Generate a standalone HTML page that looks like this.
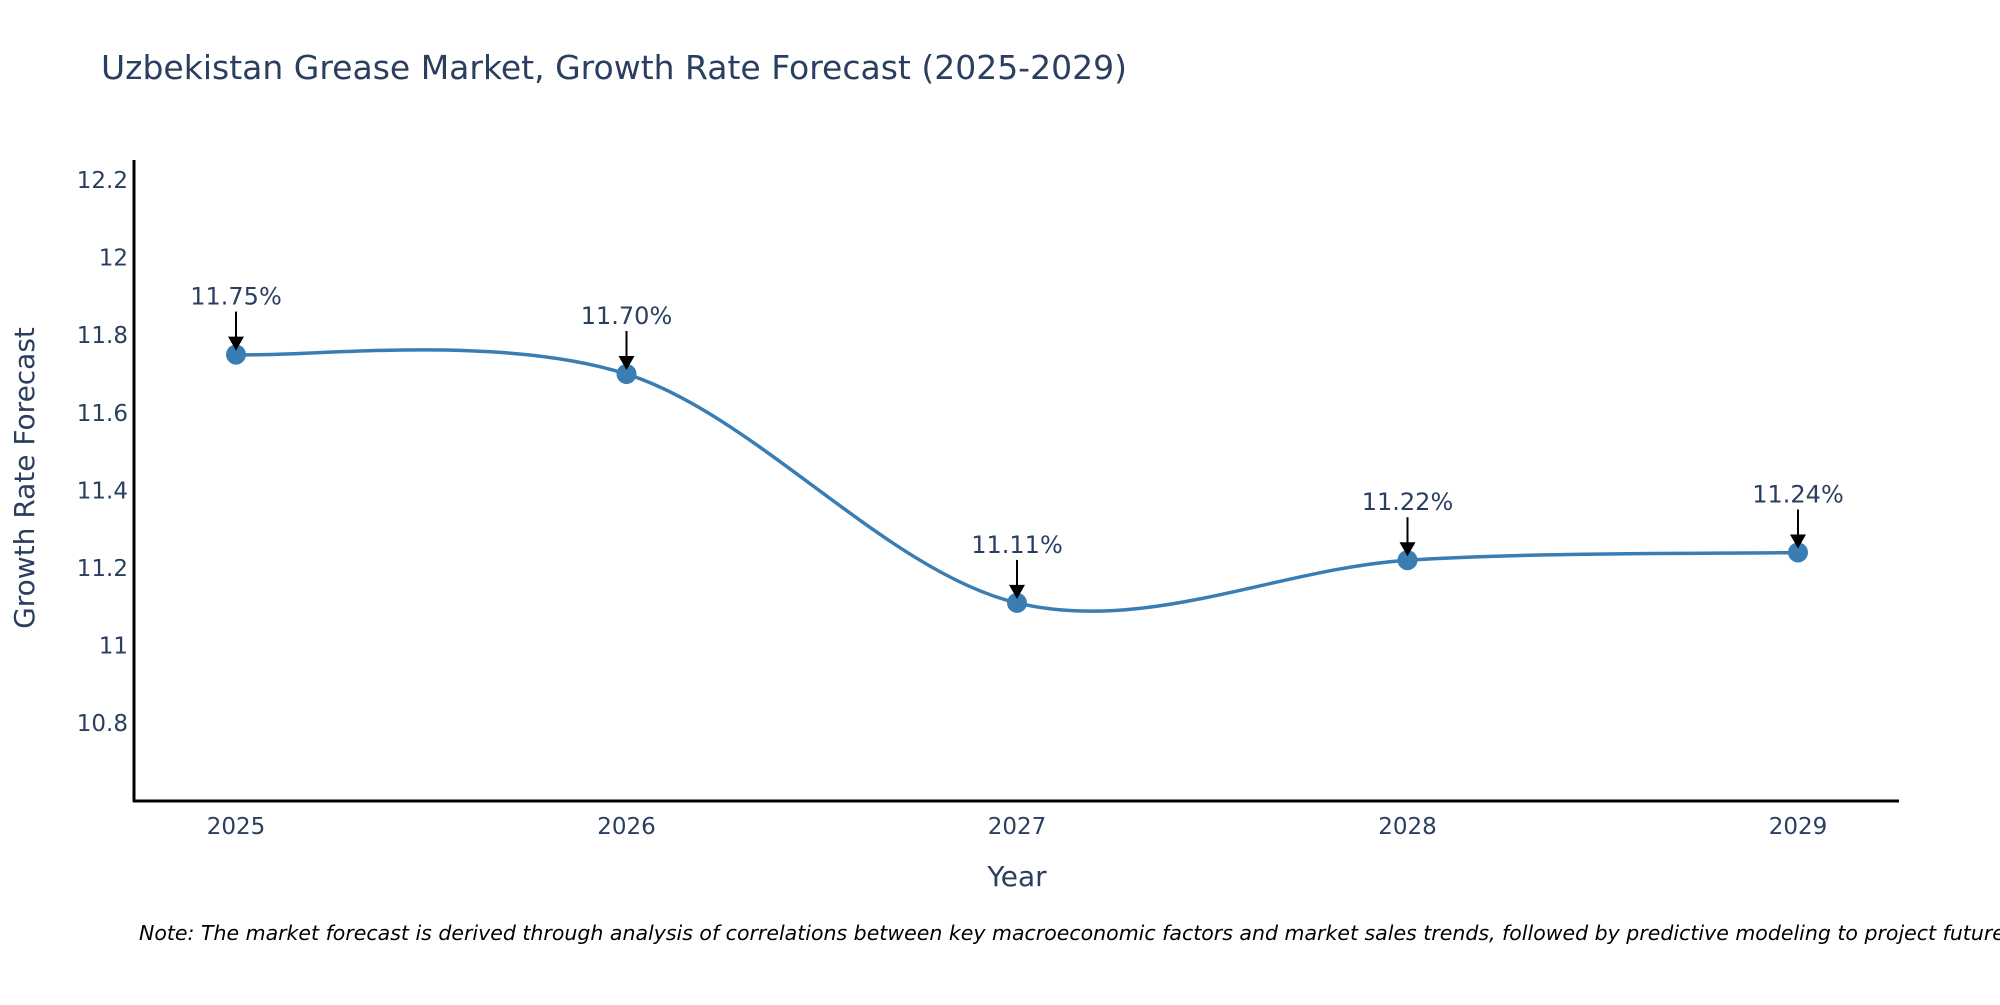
<!DOCTYPE html>
<html><head><meta charset="utf-8"><style>
html,body{margin:0;padding:0;background:#fff;}
svg text{font-family:"DejaVu Sans","Liberation Sans",sans-serif;}
</style></head><body>
<svg id="chart" width="2000" height="1000" viewBox="0 0 2000 1000" xmlns="http://www.w3.org/2000/svg">
<rect width="2000" height="1000" fill="#fff"/>
<text x="101" y="79" font-size="33" fill="#2a3f5f">Uzbekistan Grease Market, Growth Rate Forecast (2025-2029)</text>
<g id="yticks"></g><g id="xticks"></g>
<line x1="134" y1="160" x2="134" y2="802" stroke="#000" stroke-width="3"/>
<line x1="133" y1="801" x2="1899" y2="801" stroke="#000" stroke-width="3"/>
<text transform="translate(34,478) rotate(-90)" text-anchor="middle" font-size="28" fill="#2a3f5f">Growth Rate Forecast</text>
<text x="1017" y="886" text-anchor="middle" font-size="28" fill="#2a3f5f">Year</text>
<path id="line" fill="none" stroke="#3a7db3" stroke-width="3.5"/>
<g id="points"></g><g id="annos"></g>
<text x="139" y="940" font-size="20.5" font-style="italic" fill="#000">Note: The market forecast is derived through analysis of correlations between key macroeconomic factors and market sales trends, followed by predictive modeling to project future sales.</text>
</svg>
<script>
const years = [2025, 2026, 2027, 2028, 2029];
const values = [11.75, 11.70, 11.11, 11.22, 11.24];
const valueLabels = ["11.75%", "11.70%", "11.11%", "11.22%", "11.24%"];
const yTickValues = [10.8, 11, 11.2, 11.4, 11.6, 11.8, 12, 12.2];
const yTickLabels = ["10.8", "11", "11.2", "11.4", "11.6", "11.8", "12", "12.2"];

const NS = "http://www.w3.org/2000/svg";
function xs(v){ return 236 + (v - 2025) * 390.5; }
function ys(v){ return 180 + (12.2 - v) / 0.2 * 77.6; }
function mk(tag, attrs){ const e = document.createElementNS(NS, tag); for (const k in attrs) e.setAttribute(k, attrs[k]); return e; }

const yt = document.getElementById('yticks');
yTickValues.forEach((v, i) => {
  const t = mk('text', {x: 128, y: ys(v) + 8, 'text-anchor': 'end', 'font-size': 23, fill: '#2a3f5f'});
  
  
  t.textContent = yTickLabels[i];
  yt.appendChild(t);
});
const xt = document.getElementById('xticks');
years.forEach(y => {
  const t = mk('text', {x: xs(y), y: 834, 'text-anchor': 'middle', 'font-size': 23, fill: '#2a3f5f'});
  
  
  t.textContent = String(y);
  xt.appendChild(t);
});

const P = years.map((y, i) => [xs(y), ys(values[i])]);
let d = 'M' + P[0][0] + ',' + P[0][1];
for (let i = 0; i < P.length - 1; i++) {
  const p0 = P[Math.max(0, i - 1)], p1 = P[i], p2 = P[i + 1], p3 = P[Math.min(P.length - 1, i + 2)];
  const c1 = [p1[0] + (p2[0] - p0[0]) / 6, p1[1] + (p2[1] - p0[1]) / 6];
  const c2 = [p2[0] - (p3[0] - p1[0]) / 6, p2[1] - (p3[1] - p1[1]) / 6];
  d += ' C' + c1[0] + ',' + c1[1] + ' ' + c2[0] + ',' + c2[1] + ' ' + p2[0] + ',' + p2[1];
}
document.getElementById('line').setAttribute('d', d);

const pts = document.getElementById('points');
const an = document.getElementById('annos');
P.forEach((p, i) => {
  const c = mk('circle', {cx: p[0], cy: p[1], r: 10, fill: '#3a7db3'});
  
  
  pts.appendChild(c);
  const g = mk('g', {});
  
  
  g.appendChild(mk('line', {x1: p[0], y1: p[1] - 43, x2: p[0], y2: p[1] - 16, stroke: '#000', 'stroke-width': 2}));
  g.appendChild(mk('polygon', {points: (p[0]-8)+','+(p[1]-18)+' '+(p[0]+8)+','+(p[1]-18)+' '+p[0]+','+(p[1]-4), fill: '#000'}));
  const t = mk('text', {x: p[0], y: p[1] - 50, 'text-anchor': 'middle', 'font-size': 24, fill: '#2a3f5f'});
  t.textContent = valueLabels[i];
  g.appendChild(t);
  an.appendChild(g);
});
</script>
</body></html>
